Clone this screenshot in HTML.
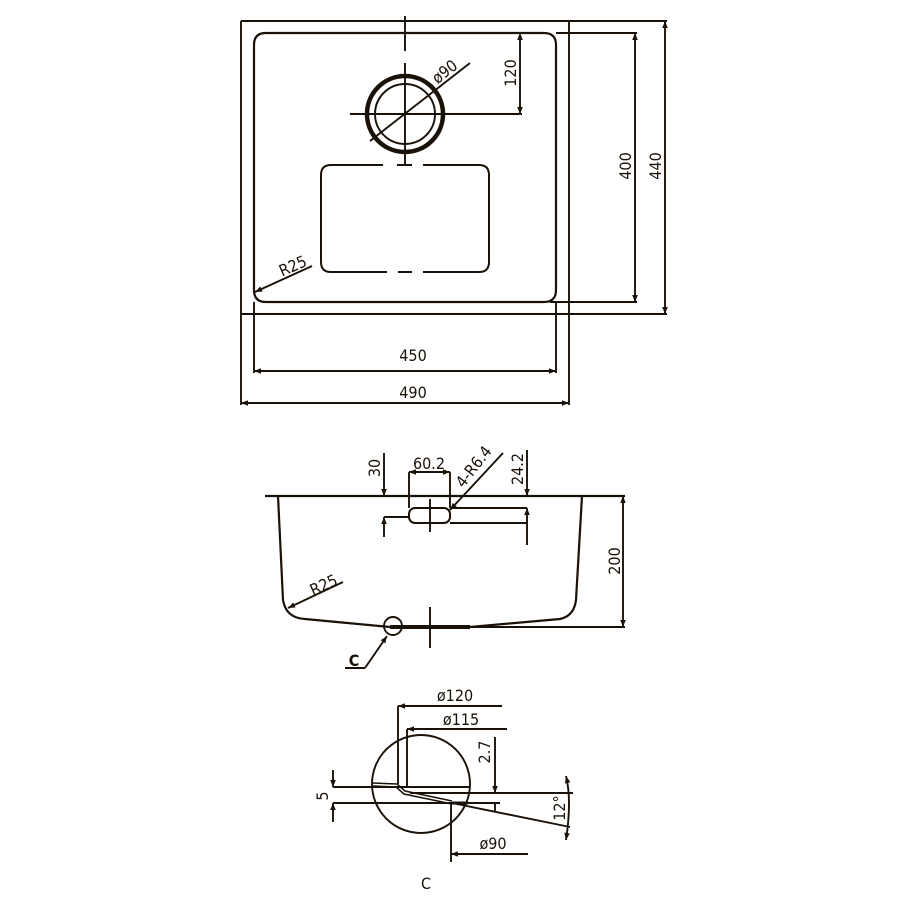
<!DOCTYPE html>
<html><head><meta charset="utf-8"><style>
html,body{margin:0;padding:0;background:#fff;}
svg{display:block}
text{font-family:"DejaVu Sans Condensed","Liberation Sans",sans-serif;fill:#1a1208;font-size:16px;}
</style></head><body>
<svg width="907" height="907" viewBox="0 0 907 907" xmlns="http://www.w3.org/2000/svg">
<defs>
<marker id="a" viewBox="0 0 10 10" refX="10" refY="5" markerWidth="10" markerHeight="7" orient="auto-start-reverse" markerUnits="userSpaceOnUse"><path d="M0,1 L10,5 L0,9 z" fill="#1a1208"/></marker>
</defs>
<g stroke="#1a1208" fill="none" stroke-width="1.9">
<line x1="241" y1="21" x2="667" y2="21"/>
<line x1="241" y1="314" x2="667" y2="314"/>
<line x1="241" y1="21" x2="241" y2="405"/>
<line x1="569" y1="21" x2="569" y2="405"/>
<path d="M266,33 H544 Q556,33 556,45 V290 Q556,302 544,302 H266 Q254,302 254,290 V45 Q254,33 266,33 Z" stroke-width="2.2"/>
<line x1="556" y1="33" x2="637" y2="33"/>
<line x1="550" y1="302" x2="637" y2="302"/>
<line x1="254" y1="302" x2="254" y2="373"/>
<line x1="556" y1="302" x2="556" y2="373"/>
<line x1="635" y1="33" x2="635" y2="302" marker-start="url(#a)" marker-end="url(#a)"/>
<line x1="665" y1="21" x2="665" y2="314" marker-start="url(#a)" marker-end="url(#a)"/>
<line x1="254" y1="371" x2="556" y2="371" marker-start="url(#a)" marker-end="url(#a)"/>
<line x1="241" y1="403" x2="569" y2="403" marker-start="url(#a)" marker-end="url(#a)"/>
<circle cx="405" cy="114" r="38" stroke-width="4.5"/>
<circle cx="405" cy="114" r="30"/>
<line x1="405" y1="16" x2="405" y2="51"/>
<line x1="405" y1="63" x2="405" y2="165"/>
<line x1="350" y1="114" x2="522" y2="114"/>
<line x1="520" y1="33" x2="520" y2="114" marker-start="url(#a)" marker-end="url(#a)"/>
<line x1="370" y1="141" x2="470" y2="63"/>
<path d="M383,165 H331 Q321,165 321,175 V262 Q321,272 331,272 H387 M398,272 H412 M423,272 H479 Q489,272 489,262 V175 Q489,165 479,165 H423 M412,165 H397" stroke-width="2"/>
<line x1="397" y1="165" x2="412" y2="165"/>
<line x1="255" y1="292" x2="312" y2="266" marker-start="url(#a)"/>
<line x1="265" y1="496" x2="625" y2="496" stroke-width="2.2"/>
<path d="M278,496 L283,600 Q286,618 305,619 L390,627 L470,627 L560,619 Q574,616 576,600 L582,496" stroke-width="2.2"/>
<line x1="390" y1="627" x2="470" y2="627" stroke-width="4"/>
<line x1="470" y1="627" x2="625" y2="627"/>
<line x1="623" y1="496" x2="623" y2="627" marker-start="url(#a)" marker-end="url(#a)"/>
<rect x="409" y="508" width="41" height="15" rx="6" stroke-width="2"/>
<line x1="450" y1="508" x2="527" y2="508"/>
<line x1="450" y1="523" x2="527" y2="523"/>
<line x1="384" y1="517" x2="409" y2="517"/>
<line x1="384" y1="453" x2="384" y2="496" marker-end="url(#a)"/>
<line x1="384" y1="537" x2="384" y2="517" marker-end="url(#a)"/>
<line x1="409" y1="472" x2="409" y2="508"/>
<line x1="450" y1="472" x2="450" y2="508"/>
<line x1="409" y1="472" x2="450" y2="472" marker-start="url(#a)" marker-end="url(#a)"/>
<line x1="430" y1="499" x2="430" y2="532"/>
<line x1="527" y1="450" x2="527" y2="496" marker-end="url(#a)"/>
<line x1="527" y1="545" x2="527" y2="508" marker-end="url(#a)"/>
<line x1="503" y1="453" x2="450" y2="510" marker-end="url(#a)"/>
<line x1="430" y1="607" x2="430" y2="648"/>
<circle cx="393" cy="626" r="9"/>
<line x1="365" y1="668" x2="387" y2="636" marker-end="url(#a)"/>
<line x1="345" y1="668" x2="365" y2="668"/>
<line x1="288" y1="608" x2="343" y2="582" marker-start="url(#a)"/>
<circle cx="421" cy="784" r="49"/>
<line x1="398" y1="706" x2="502" y2="706" marker-start="url(#a)"/>
<line x1="398" y1="706" x2="398" y2="784"/>
<line x1="407" y1="729" x2="507" y2="729" marker-start="url(#a)"/>
<line x1="407" y1="729" x2="407" y2="787"/>
<line x1="333" y1="787" x2="470" y2="787"/>
<line x1="410" y1="793" x2="573" y2="793"/>
<line x1="333" y1="803" x2="500" y2="803"/>
<path d="M373,783 L397,784 L405,791 L452,801" stroke-width="1.5"/>
<path d="M373,786 L396,787 L404,794 L452,804" stroke-width="1.5"/>
<line x1="452" y1="803" x2="570" y2="827"/>
<line x1="452" y1="803" x2="468" y2="803" stroke-width="3"/>
<line x1="333" y1="770" x2="333" y2="787" marker-end="url(#a)"/>
<line x1="333" y1="822" x2="333" y2="803" marker-end="url(#a)"/>
<line x1="495" y1="737" x2="495" y2="793" marker-end="url(#a)"/>
<line x1="495" y1="812" x2="495" y2="803"/>
<line x1="451" y1="803" x2="451" y2="862"/>
<line x1="451" y1="854" x2="528" y2="854" marker-start="url(#a)"/>
<path d="M566,776 Q572,800 566,840" marker-start="url(#a)" marker-end="url(#a)"/>
</g>
<text x="413" y="361" text-anchor="middle">450</text>
<text x="413" y="398" text-anchor="middle">490</text>
<text transform="translate(631,166) rotate(-90)" text-anchor="middle">400</text>
<text transform="translate(661,166) rotate(-90)" text-anchor="middle">440</text>
<text transform="translate(516,73) rotate(-90)" text-anchor="middle">120</text>
<text transform="translate(448,76) rotate(-38)" text-anchor="middle" font-size="14">ø90</text>
<text transform="translate(295,271) rotate(-24)" text-anchor="middle">R25</text>
<text transform="translate(380,468) rotate(-90)" text-anchor="middle">30</text>
<text x="429" y="469" text-anchor="middle">60.2</text>
<text transform="translate(523,469) rotate(-90)" text-anchor="middle">24.2</text>
<text transform="translate(478,470) rotate(-52)" text-anchor="middle">4-R6.4</text>
<text transform="translate(620,561) rotate(-90)" text-anchor="middle">200</text>
<text transform="translate(326,590) rotate(-25)" text-anchor="middle">R25</text>
<text x="354" y="666" text-anchor="middle" font-weight="bold" font-size="18">C</text>
<text x="455" y="701" text-anchor="middle">ø120</text>
<text x="461" y="725" text-anchor="middle">ø115</text>
<text transform="translate(490,752) rotate(-90)" text-anchor="middle">2.7</text>
<text transform="translate(328,796) rotate(-90)" text-anchor="middle">5</text>
<text transform="translate(565,808) rotate(-90)" text-anchor="middle">12°</text>
<text x="493" y="849" text-anchor="middle">ø90</text>
<text x="426" y="889" text-anchor="middle" font-size="28" font-weight="300">C</text>
</svg>
</body></html>
